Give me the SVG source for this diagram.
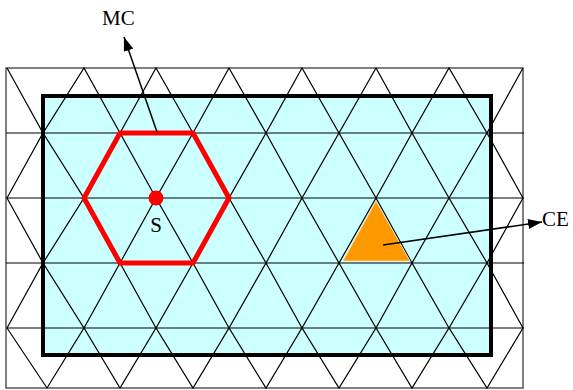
<svg xmlns="http://www.w3.org/2000/svg" width="573" height="390" viewBox="0 0 573 390">
<style>
.grid{fill:none;stroke:#000;stroke-width:1.2;stroke-linejoin:miter}
.lbl{font-family:"Liberation Serif","Times New Roman",serif;font-size:21px;fill:#000}
.conn{stroke:#000;stroke-width:1.5;fill:none}
</style>
<defs>
<marker id="arr" viewBox="0 0 14 10" refX="14" refY="5" markerWidth="14" markerHeight="10" markerUnits="userSpaceOnUse" orient="auto">
<path d="M0,0 L14,5 L0,10 z" fill="#000"/>
</marker>
</defs>
<g id="area">
<rect x="6" y="68" width="517" height="320" fill="#fff" stroke="#555" stroke-width="1.5"/>
<rect x="43" y="96" width="448" height="259" fill="#ccffff"/>
</g>
<g id="lattice">
<g class="grid">
<line x1="6" y1="133" x2="524" y2="133"/>
<line x1="6" y1="198" x2="524" y2="198"/>
<line x1="6" y1="263" x2="524" y2="263"/>
<line x1="6" y1="328" x2="524" y2="328"/>
<polyline points="7,68 43,133 84,68 120,133 156,68 193,133 229,68 266,133 302,68 339,133 376,68 412,133 449,68 487,133 523,68"/>
<polyline points="7,198 43,133 84,198 120,133 156,198 193,133 229,198 266,133 302,198 339,133 376,198 412,133 449,198 487,133 523,198"/>
<polyline points="7,198 43,263 84,198 120,263 156,198 193,263 229,198 266,263 302,198 339,263 376,198 412,263 449,198 487,263 523,198"/>
<polyline points="7,328 43,263 84,328 120,263 156,328 193,263 229,328 266,263 302,328 339,263 376,328 412,263 449,328 487,263 523,328"/>
<polyline points="7,328 47,388 84,328 120,388 156,328 193,388 229,328 266,388 302,328 339,388 376,328 412,388 449,328 487,388 523,328"/>
</g>
<rect x="43" y="96" width="448" height="259" fill="none" stroke="#000" stroke-width="4"/>
</g>
<g id="CE-cell">
<polygon points="376,201 343,261 410,261" fill="#ff9900" stroke="#ffe0b0" stroke-width="0.8"/>
</g>
<g id="MC-cluster">
<polygon points="120,133 193,133 229,198 193,263 120,263 84,198" fill="none" stroke="#ff0000" stroke-width="5" stroke-linejoin="miter"/>
</g>
<g id="S-node">
<circle cx="156" cy="198" r="7.5" fill="#ff0000"/>
<text class="lbl" x="156" y="232" text-anchor="middle">S</text>
</g>
<g id="connectors">
<line class="conn" x1="157" y1="132" x2="124" y2="37" marker-end="url(#arr)"/>
<line class="conn" x1="383" y1="245" x2="542" y2="222" marker-end="url(#arr)"/>
</g>
<g id="labels">
<text class="lbl" x="102" y="25">MC</text>
<text class="lbl" x="542" y="226">CE</text>
</g>
</svg>
